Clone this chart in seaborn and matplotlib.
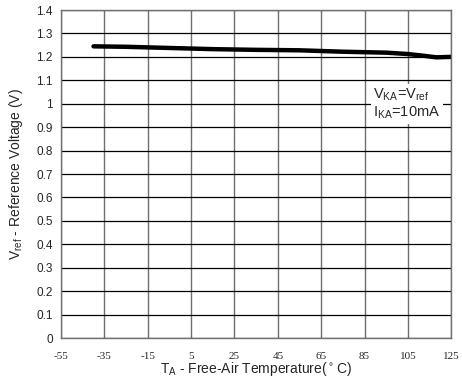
import numpy as np
import pandas as pd
import matplotlib
matplotlib.use("Agg")
import matplotlib.pyplot as plt
import seaborn as sns

# ── Data ──────────────────────────────────────────────────────────────────
temp_c = [-40, -25, -5, 15, 35, 55, 75, 95, 105, 112, 118, 125]
vref_v = [1.245, 1.243, 1.238, 1.233, 1.230, 1.228, 1.222, 1.218, 1.212, 1.205, 1.198, 1.200]
x_ticks = [-55, -35, -15, 5, 25, 45, 65, 85, 105, 125]
y_ticks = [0, 0.1, 0.2, 0.3, 0.4, 0.5, 0.6, 0.7, 0.8, 0.9, 1, 1.1, 1.2, 1.3, 1.4]

df = pd.DataFrame({"T": temp_c, "Vref": vref_v})

sns.set_theme(style="white")
plt.rcParams["font.family"] = ["Liberation Sans", "DejaVu Sans"]

fig = plt.figure(figsize=(4.62, 3.85), dpi=100)
ax = fig.add_axes([0.132, 0.122, 0.845, 0.852])

sns.lineplot(data=df, x="T", y="Vref", ax=ax, color="black", linewidth=3.2)

ax.set_xlim(-55, 125)
ax.set_ylim(0, 1.4)
ax.set_xticks(x_ticks)
ax.set_yticks(y_ticks)
ax.set_xticklabels([str(t) for t in x_ticks], family="Liberation Serif",
                   fontsize=8, fontstretch="condensed")
ax.set_yticklabels([f"{v:g}" for v in y_ticks], fontsize=8.5)
ax.tick_params(axis="both", length=0, pad=6)
ax.tick_params(axis="x", pad=10)

ax.grid(True, axis="x", color="#707070", linewidth=1)
ax.grid(True, axis="y", color="black", linewidth=0.9)
for s in ax.spines.values():
    s.set_color("#707070")
    s.set_linewidth(1)

ax.set_xlabel(r"T$_\mathregular{A}$ - Free-Air Temperature($^\circ$C)", fontsize=10, labelpad=-1)
ax.set_ylabel(r"V$_\mathregular{ref}$ - Reference Voltage (V)", fontsize=10, labelpad=8)

ax.text(0.80, 0.714, "V$_\\mathregular{KA}$=V$_\\mathregular{ref}$\nI$_\\mathregular{KA}$=10mA",
        transform=ax.transAxes, ha="left", va="center", fontsize=10.5, linespacing=1.1,
        bbox=dict(facecolor="white", edgecolor="none", pad=2))

fig.savefig("out.png", dpi=100)
